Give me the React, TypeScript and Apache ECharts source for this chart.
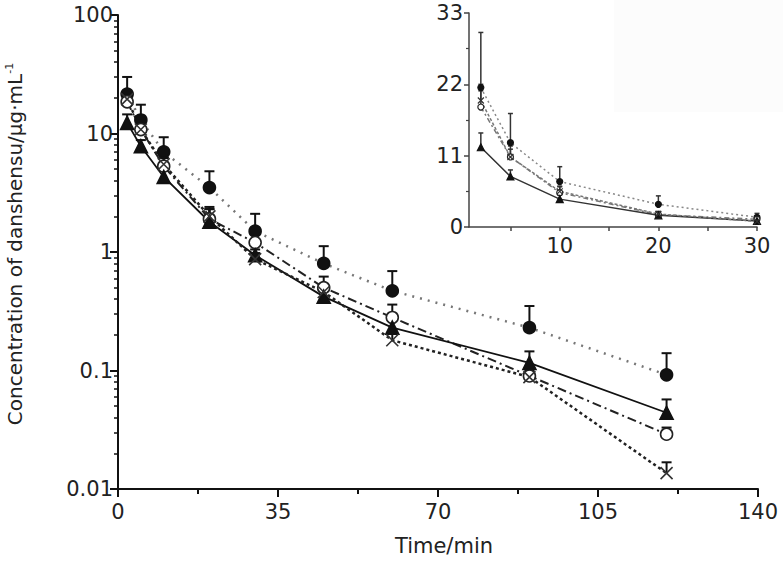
import React, { useEffect, useRef } from "react";
import * as echarts from "echarts";

const TIME = [2, 5, 10, 20, 30, 45, 60, 90, 120];
const FILLED_CIRCLE = [21.5, 13, 7.0, 3.5, 1.5, 0.8, 0.47, 0.23, 0.092];
const FILLED_CIRCLE_TOP = [30, 17.5, 9.3, 4.8, 2.1, 1.12, 0.69, 0.35, 0.14];
const OPEN_CIRCLE = [18.5, 10.8, 5.3, 1.9, 1.2, 0.5, 0.28, 0.09, 0.029];
const OPEN_CIRCLE_TOP = [21, 12, 6.2, 2.3, 1.5, 0.62, 0.36, 0.105, 0.033];
const TRIANGLE = [12.3, 7.8, 4.3, 1.8, 0.94, 0.42, 0.23, 0.116, 0.044];
const TRIANGLE_TOP = [14.5, 8.8, 4.9, 2.4, 1.05, 0.47, 0.27, 0.145, 0.057];
const CROSS = [19.5, 10.8, 5.5, 2.0, 0.87, 0.46, 0.18, 0.088, 0.0136];
const CROSS_TOP = [22, 12.5, 6.3, 2.3, 0.98, 0.52, 0.21, 0.1, 0.0168];

const MAIN_X_TICKS = [0, 35, 70, 105, 140];
const MAIN_Y_LABELS = [0.01, 0.1, 1, 10, 100];
const INSET_X_LABELS = [10, 20, 30];
const INSET_X_TICKS = [5, 10, 15, 20, 25, 30];
const INSET_Y_TICKS = [0, 11, 22, 33];
const INSET_MAX_TIME = 30;

const FONT = "'DejaVu Sans', sans-serif";
const CROSS_SYMBOL = "path://M0,0L10,10M10,0L0,10";

function pairs(ys: number[]) {
  return TIME.map((t, i) => [t, ys[i]]);
}
function errTriples(ys: number[], tops: number[]) {
  return TIME.map((t, i) => [t, ys[i], tops[i]]);
}
function insetOnly<T extends number[]>(arr: T[]) {
  return arr.filter((d) => d[0] <= INSET_MAX_TIME);
}

function errorSeries(data: number[][], gridIdx: number, width: number, cap: number, color: string) {
  return {
    type: "custom",
    xAxisIndex: gridIdx,
    yAxisIndex: gridIdx === 0 ? 0 : 2,
    data,
    z: 1,
    encode: { x: 0, y: [1, 2] },
    renderItem: (_p: any, api: any) => {
      const p = api.coord([api.value(0), api.value(1)]);
      const q = api.coord([api.value(0), api.value(2)]);
      return {
        type: "group",
        children: [
          { type: "line", shape: { x1: p[0], y1: p[1], x2: q[0], y2: q[1] }, style: { stroke: color, lineWidth: width } },
          { type: "line", shape: { x1: q[0] - cap, y1: q[1], x2: q[0] + cap, y2: q[1] }, style: { stroke: color, lineWidth: width } },
        ],
      };
    },
  };
}

export default function App() {
  const ref = useRef<HTMLDivElement>(null);
  useEffect(() => {
    if (!ref.current) return;
    const chart = echarts.init(ref.current, undefined, { renderer: "svg" });

    const specs = [
      { name: "A", ys: FILLED_CIRCLE, tops: FILLED_CIRCLE_TOP, symbol: "circle", fill: "#111", border: "#111", size: 12, isize: 6,
        line: { color: "#777", width: 2.5, type: [2, 6] as any }, iline: { color: "#888", width: 1.5, type: [2, 3] as any } },
      { name: "B", ys: OPEN_CIRCLE, tops: OPEN_CIRCLE_TOP, symbol: "circle", fill: "#fff", border: "#222", size: 12, isize: 6,
        line: { color: "#222", width: 2, type: [9, 4, 2, 4] as any }, iline: { color: "#777", width: 1.5, type: [5, 3, 2, 3] as any } },
      { name: "C", ys: TRIANGLE, tops: TRIANGLE_TOP, symbol: "triangle", fill: "#111", border: "#111", size: 13, isize: 7,
        line: { color: "#111", width: 1.8, type: "solid" as any }, iline: { color: "#333", width: 1.5, type: "solid" as any } },
      { name: "D", ys: CROSS, tops: CROSS_TOP, symbol: CROSS_SYMBOL, fill: "rgba(0,0,0,0)", border: "#333", size: 12, isize: 6,
        line: { color: "#222", width: 2.5, type: [3, 3] as any }, iline: { color: "#777", width: 1.5, type: [3, 2] as any } },
    ];

    const series: any[] = [];
    specs.forEach((s) => {
      series.push(errorSeries(errTriples(s.ys, s.tops), 0, 2, 5, "#111"));
      series.push(errorSeries(insetOnly(errTriples(s.ys, s.tops)), 1, 1.5, 2.5, "#333"));
    });
    specs.forEach((s) => {
      series.push({
        type: "line", name: s.name, xAxisIndex: 0, yAxisIndex: 0, data: pairs(s.ys), z: 3,
        symbol: s.symbol, symbolSize: s.size, showAllSymbol: true,
        itemStyle: { color: s.fill, borderColor: s.border, borderWidth: 1.6, opacity: 1 },
        lineStyle: s.line,
      });
      series.push({
        type: "line", name: s.name + "_inset", xAxisIndex: 1, yAxisIndex: 2, data: insetOnly(pairs(s.ys)), z: 3,
        symbol: s.symbol, symbolSize: s.isize, showAllSymbol: true,
        itemStyle: { color: s.fill, borderColor: s.border, borderWidth: 1.2, opacity: 1 },
        lineStyle: s.iline,
      });
    });

    const label = { fontFamily: FONT, fontSize: 21, color: "#222" };

    chart.setOption({
      animation: false,
      backgroundColor: "#fff",
      graphic: [
        { type: "rect", shape: { x: 614, y: 0, width: 169, height: 112 }, style: { fill: "#fcfcfc" }, z: -10 },
        {
          type: "text", x: 15, y: 244, rotation: Math.PI / 2,
          style: {
            text: "Concentration of danshensu/μg·mL{sup|-1}",
            fontFamily: FONT, fontSize: 20, fill: "#222", textAlign: "center", textVerticalAlign: "middle",
            lineHeight: 23,
            rich: { sup: { fontFamily: FONT, fontSize: 11, lineHeight: 23, verticalAlign: "top", fill: "#222" } },
          },
        },
        { type: "text", x: 444, y: 546, style: { text: "Time/min", fontFamily: FONT, fontSize: 21, fill: "#222", textAlign: "center", textVerticalAlign: "middle" } },
      ],
      grid: [
        { left: 118, top: 15, width: 640, height: 474, outerBoundsMode: "none" },
        { left: 469, top: 13, width: 288, height: 214, outerBoundsMode: "none" },
      ],
      xAxis: [
        {
          type: "value", gridIndex: 0, min: MAIN_X_TICKS[0], max: MAIN_X_TICKS[MAIN_X_TICKS.length - 1], interval: 35,
          axisLine: { lineStyle: { color: "#111", width: 2 } },
          axisTick: { inside: false, length: 8, lineStyle: { color: "#111", width: 2 } },
          minorTick: { show: true, splitNumber: 2, length: 5, lineStyle: { color: "#111", width: 2 } },
          axisLabel: { ...label, margin: 12 },
          splitLine: { show: false },
        },
        {
          type: "value", gridIndex: 1, min: 0.8, max: INSET_MAX_TIME,
          axisLine: { lineStyle: { color: "#444", width: 1.5 } },
          axisTick: { inside: false, length: 4, customValues: INSET_X_TICKS, lineStyle: { color: "#444", width: 1.5 } },
          axisLabel: { ...label, margin: 8, customValues: INSET_X_LABELS },
          splitLine: { show: false },
        },
      ],
      yAxis: [
        {
          type: "log", gridIndex: 0, min: MAIN_Y_LABELS[0], max: MAIN_Y_LABELS[MAIN_Y_LABELS.length - 1], logBase: 10,
          axisLine: { lineStyle: { color: "#111", width: 2 } },
          axisTick: { inside: false, length: 8, lineStyle: { color: "#111", width: 2 } },
          minorTick: { show: true, splitNumber: 9, length: 4, lineStyle: { color: "#111", width: 1.5 } },
          axisLabel: { ...label, margin: 5, formatter: (v: number) => String(v) },
          splitLine: { show: false },
        },
        { type: "value", gridIndex: 0, show: false },
        {
          type: "value", gridIndex: 1, min: INSET_Y_TICKS[0], max: INSET_Y_TICKS[INSET_Y_TICKS.length - 1], interval: 11,
          axisLine: { show: true, lineStyle: { color: "#444", width: 1.5 } },
          axisTick: { show: true, inside: false, length: 5, lineStyle: { color: "#444", width: 1.5 } },
          minorTick: { show: true, splitNumber: 2, length: 3, lineStyle: { color: "#444", width: 1.2 } },
          axisLabel: { ...label, margin: 6 },
          splitLine: { show: false },
        },
      ],
      series,
    });
    return () => chart.dispose();
  }, []);
  return <div ref={ref} style={{ position: "fixed", left: 0, top: 0, width: 783, height: 571 }} />;
}
